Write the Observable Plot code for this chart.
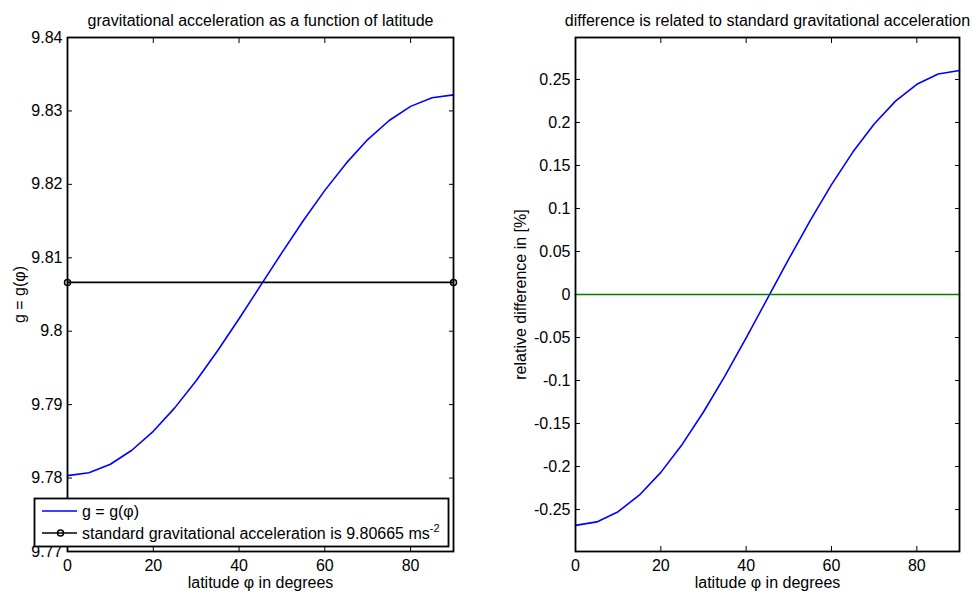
<!DOCTYPE html>
<html><head><meta charset="utf-8">
<script src="https://cdn.jsdelivr.net/npm/d3@7"></script>
<script src="https://cdn.jsdelivr.net/npm/@observablehq/plot@0.6"></script>
<style>
body{margin:0;background:#fff}
#wrap{display:flex;width:972px;height:592px;background:#fff}
</style>
</head><body><div id="wrap"></div>
<script>
// ---- data ----
const latitude = [0,5,10,15,20,25,30,35,40,45,50,55,60,65,70,75,80,85,90];
const gValues = [9.78033,9.78072,9.78188,9.78379,9.78637,9.78956,9.79325,9.79734,9.80170,9.80620,
                 9.81070,9.81508,9.81918,9.82289,9.82610,9.82870,9.83062,9.83179,9.83219];
const relDiff = [-0.2684,-0.2644,-0.2525,-0.2331,-0.2068,-0.1743,-0.1366,-0.0950,-0.0505,-0.0046,
                 0.0413,0.0859,0.1278,0.1656,0.1983,0.2248,0.2444,0.2564,0.2604];
const stdLatitude = [0, 90];
const stdG = [9.80665, 9.80665];
const stdDiff = [0, 0];
const xTicks = [0,20,40,60,80];
const gTicks = [9.77,9.78,9.79,9.80,9.81,9.82,9.83,9.84];
const diffTicks = [-0.25,-0.2,-0.15,-0.1,-0.05,0,0.05,0.1,0.15,0.2,0.25];
const titles = ["gravitational acceleration as a function of latitude",
                "difference is related to standard gravitational acceleration"];
const xLabel = "latitude \u03c6 in degrees";
const yLabels = ["g = g(\u03c6)", "relative difference in [%]"];
const legendLabels = ["g = g(\u03c6)", "standard gravitational acceleration is 9.80665 ms"];

const FONT = "'Liberation Sans', Arial, Helvetica, sans-serif";
const FS = 16;
const fmt = d => String(+d.toFixed(2));

const gData = latitude.map((lat, i) => ({lat, v: gValues[i]}));
const diffData = latitude.map((lat, i) => ({lat, v: relDiff[i]}));
const stdGData = stdLatitude.map((lat, i) => ({lat, v: stdG[i]}));
const stdDiffData = stdLatitude.map((lat, i) => ({lat, v: stdDiff[i]}));

function axes(yt) {
  return [
    Plot.axisX(xTicks, {anchor: "bottom", tickSize: 0, tickPadding: 8, tickFormat: fmt, label: null, fontSize: FS}),
    Plot.axisX(xTicks, {anchor: "bottom", tickSize: -5, tickFormat: () => "", label: null}),
    Plot.axisX(xTicks, {anchor: "top", tickSize: -5, tickFormat: () => "", label: null}),
    Plot.axisY(yt, {anchor: "left", tickSize: 0, tickPadding: 5, tickFormat: fmt, label: null, fontSize: FS}),
    Plot.axisY(yt, {anchor: "left", tickSize: -5, tickFormat: () => "", label: null}),
    Plot.axisY(yt, {anchor: "right", tickSize: -5, tickFormat: () => "", label: null})
  ];
}

function texts(i, ylabDx) {
  return [
    Plot.text([titles[i]], {frameAnchor: "top", dy: -17, lineAnchor: "middle", fontSize: FS}),
    Plot.text([xLabel], {frameAnchor: "bottom", dy: 31, lineAnchor: "middle", fontSize: FS}),
    Plot.text([yLabels[i]], {frameAnchor: "left", dx: ylabDx, rotate: -90, textAnchor: "middle", lineAnchor: "middle", fontSize: FS})
  ];
}

const style = {fontFamily: FONT, fontSize: FS + "px", color: "black", background: "white", overflow: "visible"};

const left = Plot.plot({
  width: 486, height: 592,
  marginLeft: 67, marginRight: 33, marginTop: 37, marginBottom: 41,
  style,
  x: {domain: [0, 90]},
  y: {domain: [9.77, 9.84]},
  marks: [
    ...axes(gTicks),
    Plot.line(gData, {x: "lat", y: "v", stroke: "#0000ff", strokeWidth: 1.6}),
    Plot.line(stdGData, {x: "lat", y: "v", stroke: "black", strokeWidth: 1.6}),
    Plot.dot(stdGData, {x: "lat", y: "v", r: 3, stroke: "black", strokeWidth: 1.5, fill: "none"}),
    Plot.frame({stroke: "black", strokeWidth: 1.8}),
    ...texts(0, -48)
  ]
});

const right = Plot.plot({
  width: 486, height: 592,
  marginLeft: 89, marginRight: 13, marginTop: 37, marginBottom: 41,
  style,
  x: {domain: [0, 90]},
  y: {domain: [-0.2988, 0.2988]},
  marks: [
    ...axes(diffTicks),
    Plot.line(diffData, {x: "lat", y: "v", stroke: "#0000ff", strokeWidth: 1.6}),
    Plot.line(stdDiffData, {x: "lat", y: "v", stroke: "#008000", strokeWidth: 1.7}),
    Plot.frame({stroke: "black", strokeWidth: 1.8}),
    ...texts(1, -55)
  ]
});

// legend (left panel)
const svgL = d3.select(left);
const lg = svgL.append("g").attr("text-anchor", "start").attr("font-size", FS);
lg.append("rect").attr("x", 34.5).attr("y", 498.5).attr("width", 414).attr("height", 48)
  .attr("fill", "white").attr("stroke", "black").attr("stroke-width", 1.8);
lg.append("line").attr("x1", 42).attr("x2", 77).attr("y1", 511).attr("y2", 511)
  .attr("stroke", "#0000ff").attr("stroke-width", 1.6);
lg.append("text").attr("x", 82).attr("y", 516.5).attr("fill", "black").text(legendLabels[0]);
lg.append("line").attr("x1", 42).attr("x2", 77).attr("y1", 533).attr("y2", 533)
  .attr("stroke", "black").attr("stroke-width", 1.6);
lg.append("circle").attr("cx", 60.5).attr("cy", 533).attr("r", 3)
  .attr("fill", "none").attr("stroke", "black").attr("stroke-width", 1.5);
const t2 = lg.append("text").attr("x", 82).attr("y", 538.5).attr("fill", "black");
t2.append("tspan").text(legendLabels[1]);
t2.append("tspan").attr("dy", -7).attr("font-size", 11).text("-2");

document.getElementById("wrap").append(left, right);
</script>
</body></html>
